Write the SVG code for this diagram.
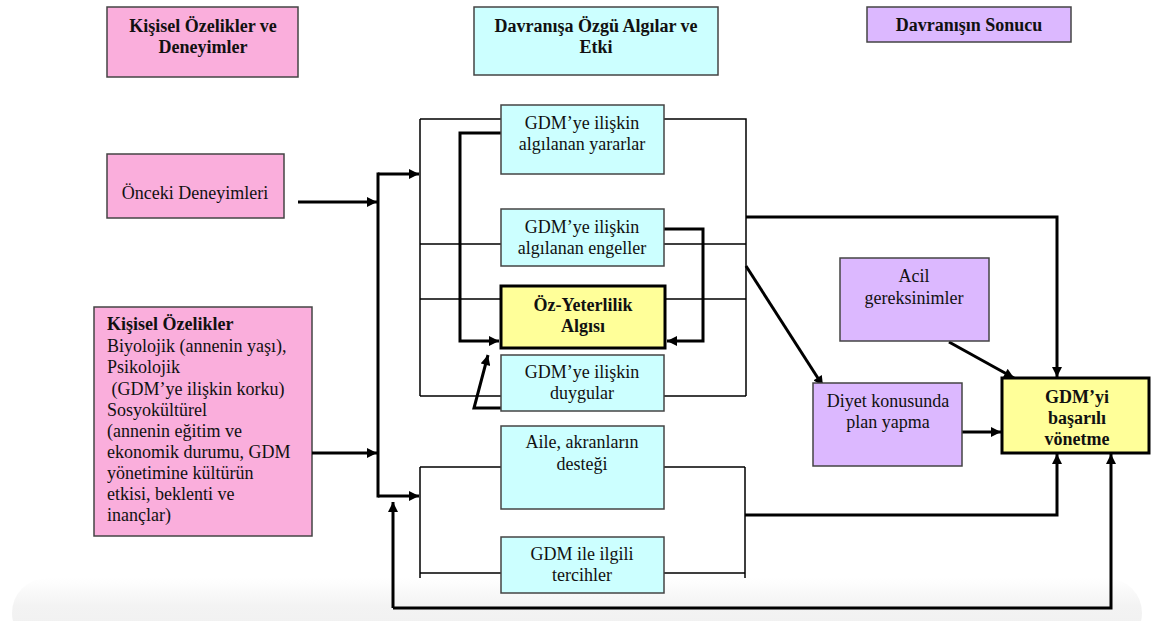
<svg xmlns="http://www.w3.org/2000/svg" width="1152" height="621" viewBox="0 0 1152 621" font-family="'Liberation Serif', Tinos, 'Times New Roman', 'Noto Serif', 'DejaVu Serif', serif">
<style>
text{font-family:'Liberation Serif', Tinos, 'Times New Roman', 'Noto Serif', 'DejaVu Serif', serif;font-size:18px;fill:#111;}
.b{font-weight:bold;}
.c{text-anchor:middle;}
.pink{fill:#FAAEDC;stroke:#444;stroke-width:1.5;}
.cyan{fill:#CCFFFF;stroke:#444;stroke-width:1.5;}
.purple{fill:#DCB8FF;stroke:#444;stroke-width:1.5;}
.yellow{fill:#FFFF99;stroke:#000;stroke-width:3;}
.thin{fill:none;stroke:#000;stroke-width:1.5;}
.thick{fill:none;stroke:#000;stroke-width:3;stroke-linejoin:miter;}
.arr{marker-end:url(#ah);}
</style>
<defs>
<linearGradient id="bg" x1="0" y1="0" x2="0" y2="1">
<stop offset="0" stop-color="#ffffff"/>
<stop offset="0.4" stop-color="#f3f3f3"/>
<stop offset="1" stop-color="#efefef"/>
</linearGradient>
<marker id="ah" viewBox="0 0 10 10" refX="10" refY="5" markerWidth="11" markerHeight="10" markerUnits="userSpaceOnUse" orient="auto">
<path d="M0,0 L10,5 L0,10 z" fill="#000"/>
</marker>
</defs>
<rect x="0" y="0" width="1152" height="621" fill="#fff"/>
<rect x="12" y="578" width="1130" height="70" rx="35" fill="url(#bg)"/>

<g id="h1"><rect class="pink" x="107" y="7" width="191" height="70"/><text class="b c" x="203" y="32">Kişisel Özelikler ve</text><text class="b c" x="203" y="53">Deneyimler</text></g>
<g id="h2"><rect class="cyan" x="474" y="7" width="244" height="68"/><text class="b c" x="596" y="32">Davranışa Özgü Algılar ve</text><text class="b c" x="596" y="53">Etki</text></g>
<g id="h3"><rect class="purple" x="867" y="7" width="204" height="35"/><text class="b c" x="969" y="31">Davranışın Sonucu</text></g>

<g id="onceki"><rect class="pink" x="107" y="154" width="177" height="64"/><text class="c" x="195" y="199">Önceki Deneyimleri</text></g>

<g id="kisisel"><rect class="pink" x="94" y="307" width="218" height="229"/>
<text x="107" y="330" class="b">Kişisel Özelikler</text>
<text x="107" y="352">Biyolojik (annenin yaşı),</text>
<text x="107" y="373">Psikolojik</text>
<text x="107" y="395" xml:space="preserve"> (GDM’ye ilişkin korku)</text>
<text x="107" y="416">Sosyokültürel</text>
<text x="107" y="437">(annenin eğitim ve</text>
<text x="107" y="458">ekonomik durumu, GDM</text>
<text x="107" y="479">yönetimine kültürün</text>
<text x="107" y="500">etkisi, beklenti ve</text>
<text x="107" y="521">inançlar)</text>
</g>

<g id="connectors">
<path class="thin" d="M420,119 V396 M420,119 H501 M664,119 H746 V396 M420,244 H501 M664,244 H746 M420,299 H501 M665,299 H746 M420,396 H501 M664,396 H746"/>
<path class="thin" d="M420,467 V578 M420,467 H501 M420,573 H501 M664,467 H745 M664,573 H745 M745,467 V578"/>
<path class="thick arr" d="M298,202 H377"/>
<path class="thick arr" d="M312,453 H377"/>
<path class="thick" d="M378,172.5 V497.5"/>
<path class="thick arr" d="M378,174 H419"/>
<path class="thick arr" d="M378,496 H419"/>
<path class="thick arr" d="M501,133 H460 V341 H499"/>
<path class="thick arr" d="M664,229 H703 V341 H667"/>
<path class="thick arr" d="M501,408 H474 L488,355"/>
<path class="thick arr" d="M746,217 H1057 V377"/>
<path class="thick arr" d="M746,266 L823,386"/>
<path class="thick arr" d="M949,342 L1014,378"/>
<path class="thick arr" d="M962,432 H1001"/>
<path class="thick arr" d="M745,515 H1057 V454"/>
<path class="thick arr" d="M393,608 V502"/>
<path class="thick arr" d="M393,608 H1111 V454"/>
</g>

<g id="yararlar"><rect class="cyan" x="501" y="105" width="163" height="69"/><text class="c" x="582" y="129">GDM’ye ilişkin</text><text class="c" x="582" y="150">algılanan yararlar</text></g>
<g id="engeller"><rect class="cyan" x="501" y="209" width="163" height="57"/><text class="c" x="582" y="233">GDM’ye ilişkin</text><text class="c" x="582" y="254">algılanan engeller</text></g>
<g id="ozyeterlilik"><rect class="yellow" x="501" y="286" width="164" height="62"/><text class="b c" x="583" y="311">Öz-Yeterlilik</text><text class="b c" x="583" y="332">Algısı</text></g>
<g id="duygular"><rect class="cyan" x="501" y="355" width="163" height="56"/><text class="c" x="582" y="378">GDM’ye ilişkin</text><text class="c" x="582" y="399">duygular</text></g>
<g id="aile"><rect class="cyan" x="501" y="426" width="163" height="83"/><text class="c" x="582" y="448">Aile, akranların</text><text class="c" x="582" y="470">desteği</text></g>
<g id="tercihler"><rect class="cyan" x="501" y="537" width="163" height="56"/><text class="c" x="582" y="560">GDM ile ilgili</text><text class="c" x="582" y="581">tercihler</text></g>

<g id="acil"><rect class="purple" x="840" y="258" width="149" height="83"/><text class="c" x="914" y="282">Acil</text><text class="c" x="914" y="304">gereksinimler</text></g>
<g id="diyet"><rect class="purple" x="813" y="383" width="149" height="83"/><text class="c" x="888" y="407">Diyet konusunda</text><text class="c" x="888" y="428">plan yapma</text></g>
<g id="gdmyi"><rect class="yellow" x="1002" y="378" width="147" height="75"/><text class="b c" x="1077" y="403">GDM’yi</text><text class="b c" x="1077" y="424">başarılı</text><text class="b c" x="1077" y="445">vönetme</text></g>
</svg>
